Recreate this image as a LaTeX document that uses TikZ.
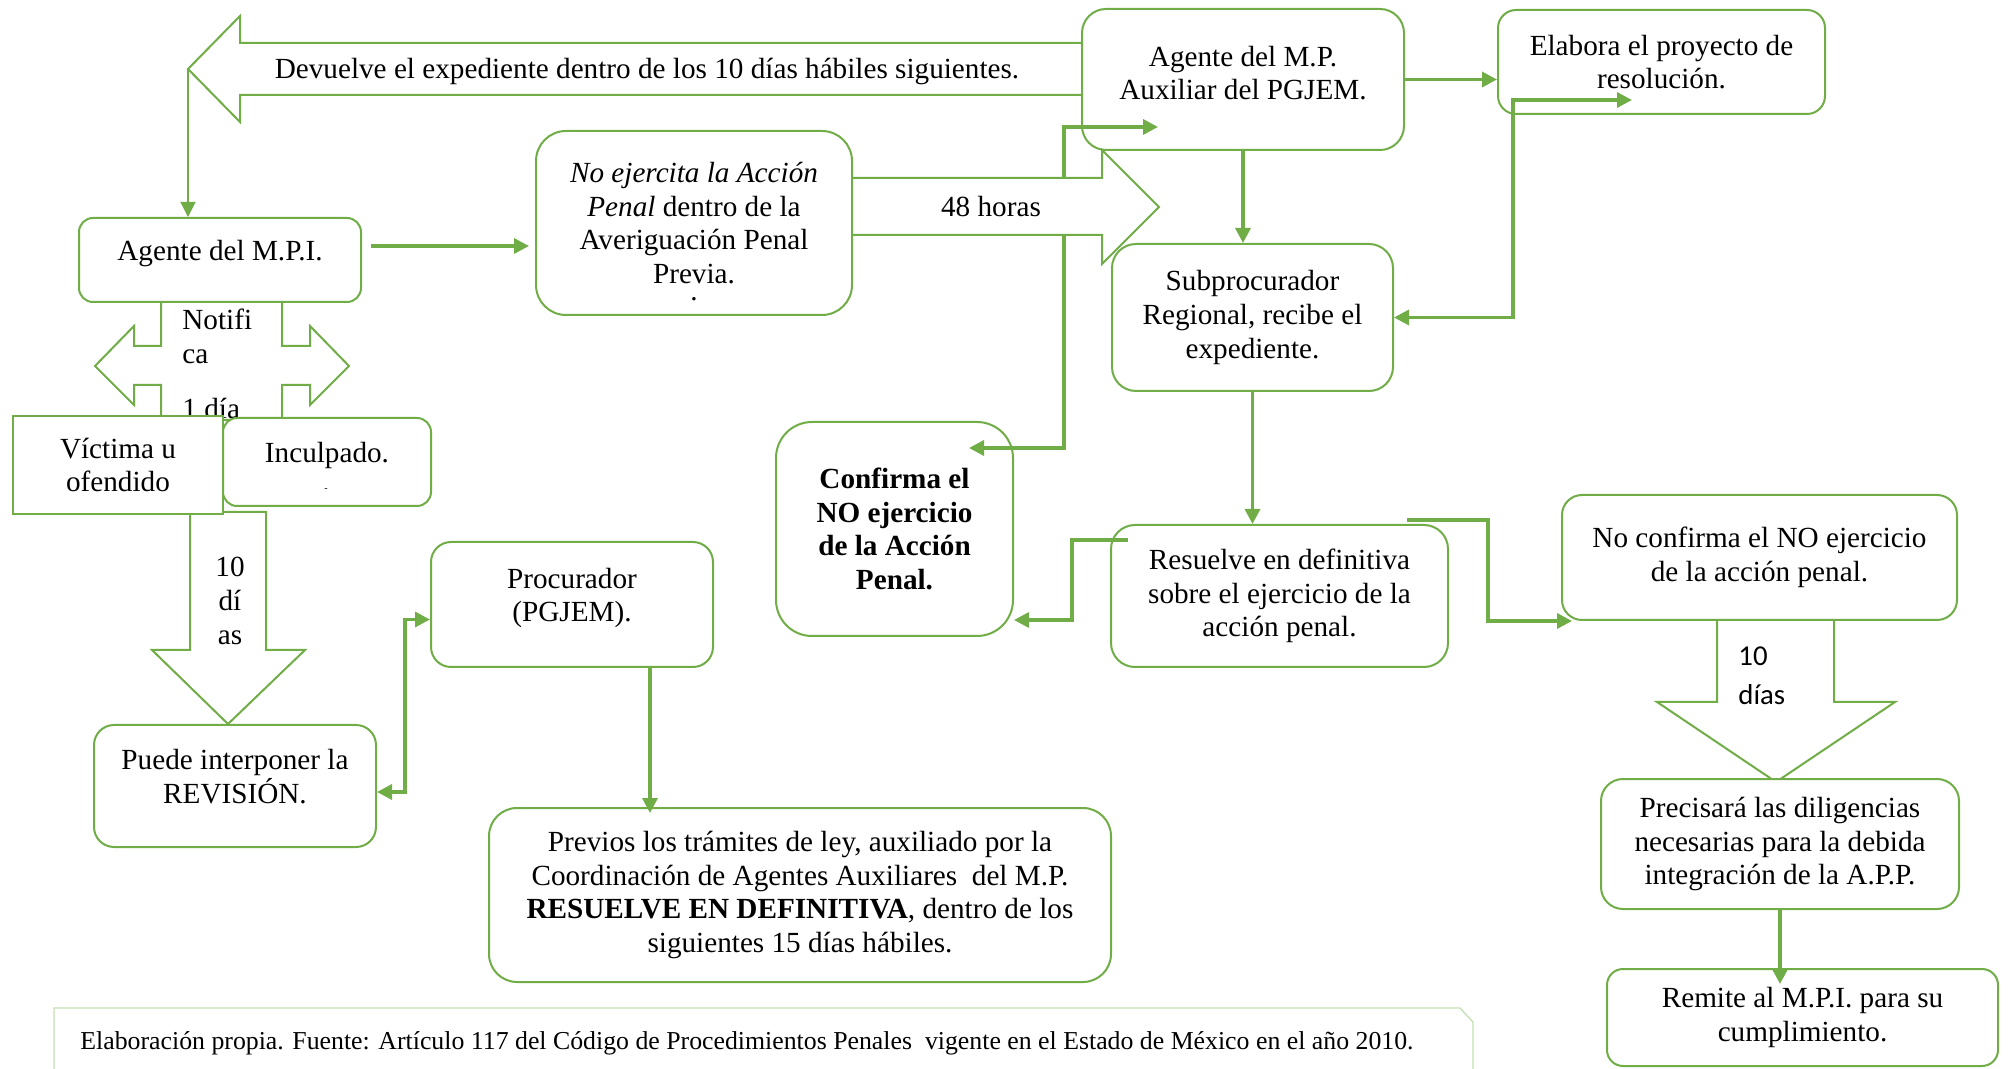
\documentclass[tikz,border=0pt]{standalone}
\usepackage{fontspec}
\setmainfont{Liberation Serif}
\newfontfamily\calibri{Carlito}
\usetikzlibrary{arrows.meta,calc}
\definecolor{verde}{RGB}{112,173,71}
\definecolor{verdeclaro}{RGB}{197,224,180}

\begin{document}
\begin{tikzpicture}[x=0.5pt, y=-0.5pt, >={Triangle[length=7.5pt,width=7.5pt]},
      every node/.style = {font=\fontsize{14.6}{16.8}\selectfont},
      caja/.style = {draw=verde, line width=1pt, fill=white,
        rounded corners=#1, align=center, inner sep=0pt},
      caja/.default = 10pt,
      bloque/.style = {draw=verde, line width=1pt, fill=white},
      enlace/.style = {draw=verde, line width=1.7pt, ->},
      fino/.style = {draw=verde, line width=0.6pt, ->}]
  \useasboundingbox (0,0) rectangle (2010,1069);

  % flechas de bloque
  \coordinate (pdev) at (188,69);
  \draw[bloque] (pdev) -- (240,16) -- (240,43) -- (1090,43) -- (1090,95)
    -- (240,95) -- (240,122) -- cycle;
  \node (tdev) at (647,72) {Devuelve el expediente dentro de los 10 días hábiles siguientes.};

  \draw[bloque] (161,295) -- (161,346) -- (134,346) -- (134,326) -- (95,366)
    -- (134,405) -- (134,385) -- (161,385) -- (161,420) -- (282,420)
    -- (282,385) -- (310,385) -- (310,405) -- (349,366) -- (310,326)
    -- (310,346) -- (282,346) -- (282,295) -- cycle;
  \node[align=left, anchor=north west, inner sep=0pt] (tnot) at (182,309) {Notifi\\ca\\[10.5pt]1 día};

  \draw[bloque] (190,512) -- (266,512) -- (266,650) -- (305,650) -- (228,724)
    -- (152,650) -- (190,650) -- cycle;
  \node[align=center] (tdiasa) at (230,601) {10\\dí\\as};

  \draw[bloque] (1717,620) -- (1834,620) -- (1834,702) -- (1895,702)
    -- (1776,782) -- (1657,702) -- (1717,702) -- cycle;
  \node[align=left, anchor=north west, inner sep=0pt,
    font=\calibri\fontsize{14.4}{19.5}\selectfont] (tdiasb) at (1738,646) {10\\días};

  % cajas
  \node[caja=7pt, minimum width=141pt, minimum height=42pt] (mpi) at (220,260)
    {Agente del M.P.I.\\[-7pt]\mbox{}};
  \node[caja=15pt, minimum width=158pt, minimum height=92pt] (noej) at (694,223)
    {\textit{No ejercita la Acción}\\\textit{Penal} dentro de la\\Averiguación Penal\\Previa.};
  \node[inner sep=0pt] (punto) at (694,299) {.};
  \node[caja=12pt, minimum width=161pt, minimum height=70.5pt] (agaux) at (1243,79.5)
    {Agente del M.P.\\Auxiliar del PGJEM.\\[-10pt]\mbox{}};
  \node[caja=9pt, minimum width=163.5pt, minimum height=52pt] (elab) at (1661.5,62)
    {Elabora el proyecto de\\resolución.};
  \node[caja=18pt, minimum width=118.5pt, minimum height=107pt] (conf) at (894.5,529)
    {\textbf{Confirma el}\\\textbf{NO ejercicio}\\\textbf{de la Acción}\\\textbf{Penal.}};
  \node[caja=12pt, minimum width=168.5pt, minimum height=71pt] (res) at (1279.5,596)
    {Resuelve en definitiva\\sobre el ejercicio de la\\acción penal.};
  \node[caja=10pt, minimum width=197.5pt, minimum height=62.5pt] (noconf) at (1759.5,557.5)
    {No confirma el NO ejercicio\\de la acción penal.};
  \node[caja=11pt, minimum width=179pt, minimum height=65pt] (prec) at (1780,844)
    {Precisará las diligencias\\necesarias para la debida\\integración de la A.P.P.};
  \node[caja=8pt, minimum width=195.5pt, minimum height=48.5pt] (rem) at (1802.5,1017.5)
    {Remite al M.P.I. para su\\cumplimiento.};
  \node[caja=0pt, minimum width=105pt, minimum height=49pt] (vict) at (118,465)
    {Víctima u\\ofendido};
  \node[caja=7pt, minimum width=104pt, minimum height=44pt] (incul) at (327,462)
    {Inculpado.\\[-7pt]\mbox{}};
  \node[font=\tiny] (guion) at (326,490) {-};
  \node[caja, minimum width=141pt, minimum height=61pt] (puede) at (235,786)
    {Puede interponer la\\REVISIÓN.\\[-7pt]\mbox{}};
  \node[caja, minimum width=141pt, minimum height=62.5pt] (proc) at (572,604.5)
    {Procurador\\(PGJEM).\\[-7pt]\mbox{}};
  \node[caja=14pt, minimum width=311pt, minimum height=87pt] (prev) at (800,895)
    {Previos los trámites de ley, auxiliado por la\\Coordinación de Agentes Auxiliares~ del M.P.\\\textbf{RESUELVE EN DEFINITIVA}, dentro de los\\siguientes 15 días hábiles.};

  % bifurcacion bajo la flecha de 48 horas
  \coordinate (bif) at (1064,300);
  \draw[enlace,<->] ($(agaux.west)+(77,47.5)$) -| (bif) |- ($(conf.east)+(-45,-81)$);

  \draw[bloque] (852,178) -- (1102,178) -- (1102,150) -- (1159,207)
    -- (1102,264) -- (1102,235) -- (852,235) -- cycle;
  \node (thoras) at (991,207) {48 horas};

  \node[caja=12pt, minimum width=140.5pt, minimum height=73.5pt] (sub) at (1252.5,317.5)
    {Subprocurador\\Regional, recibe el\\expediente.};

  % conectores
  \draw[fino] (pdev) -- (pdev |- mpi.north);
  \draw[enlace] ($(mpi.east)+(9,-14)$) -- ($(noej.west)+(-6,23)$);
  \draw[enlace] (agaux.east) -- (agaux.east -| elab.west);
  \draw[enlace] (agaux.south) -- (agaux.south |- sub.north);
  \draw[enlace,<->] (sub.east) -| ($(elab.south west)+(16,0)$) |- ($(elab.south west)+(135,-15)$);
  \draw[enlace] (sub.south) -- (sub.south |- res.north);
  \draw[enlace] ($(res.north west)+(18,16)$) -| ($(conf.east)+(58,91)$) -- ($(conf.east)+(0,91)$);
  \draw[enlace] ($(res.north east)+(-42,-4)$) -| ($(noconf.south west)+(-73,0)$) -- ($(noconf.south west)+(11,0)$);
  \draw[enlace,<->] ($(proc.west)+(0,15)$) -| ($(puede.east)+(28,6)$) -- ($(puede.east)+(0,6)$);
  \draw[enlace] ($(proc.south)+(78,0)$) -- ($(proc.south)+(78,145)$);
  \draw[enlace] (prec.south) -- ++(0,74);

  % fuente
  \draw[verdeclaro, line width=0.7pt] (54,1069) -- (54,1008) -- (1460,1008) -- (1473,1022) -- (1473,1069);
  \node[anchor=west, inner sep=0pt, font=\fontsize{12.9}{15}\selectfont] (fuente) at (80,1043) {Elaboración propia. Fuente: Artículo 117 del Código de Procedimientos Penales~ vigente en el Estado de México en el año 2010.};
\end{tikzpicture}
\end{document}
